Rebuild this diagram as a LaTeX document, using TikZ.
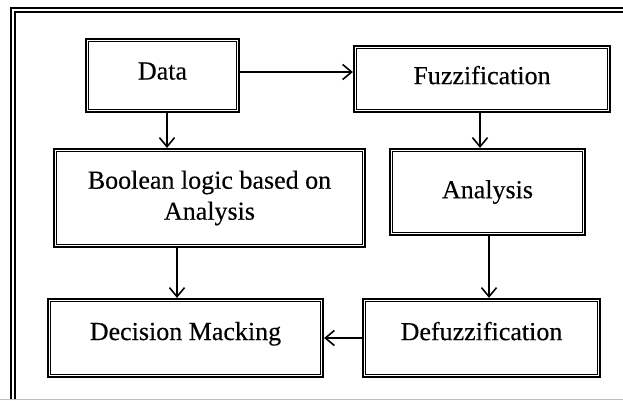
\documentclass[tikz,border=0pt]{standalone}
\usepackage{fontspec}
\setmainfont{Liberation Serif}[FakeBold=0.3]
\usetikzlibrary{arrows.meta}
\begin{document}
\begin{tikzpicture}[x=1pt,y=-1pt,
  box/.style={draw, line width=2.2pt, inner sep=0pt, align=center,
    font=\fontsize{26}{31}\selectfont},
  arr/.style={line width=1.6pt, -{Straight Barb[length=9pt,width=15pt,line width=1.6pt]}}]
\useasboundingbox (0,0) rectangle (623,400);
% outer frame
\draw[line width=2pt] (10.5,400) -- (10.5,8) -- (623,8);
\draw[line width=1.8pt] (15,400) -- (15,12) -- (623,12);
\draw[gray!50, line width=1pt] (0,399.5) -- (623,399.5);
% boxes
\node[box, minimum width=153pt, minimum height=73pt, text depth=9pt] (data) at (162.5,75.5) {Data};
\node[box, minimum width=256pt, minimum height=66pt, text depth=8pt] (fuzz) at (482,79) {Fuzzification};
\node[box, minimum width=311pt, minimum height=98pt] (bool) at (209.5,198) {Boolean logic based on\\Analysis};
\node[box, minimum width=195pt, minimum height=86pt] (ana) at (487.5,192) {Analysis};
\node[box, minimum width=275pt, minimum height=78pt, text depth=14pt] (dec) at (185.5,338) {Decision Macking};
\node[box, minimum width=237pt, minimum height=78pt, text depth=14pt] (defuzz) at (481.5,338) {Defuzzification};
% inner lines
\foreach \n in {data,fuzz,bool,ana,dec,defuzz}{
  \draw[line width=1.2pt] ([shift={(3.7,3.7)}]\n.north west) rectangle ([shift={(-3.7,-3.7)}]\n.south east);
}
% arrows
\draw[arr] (data.east |- 0,72) -- (fuzz.west |- 0,72);
\draw[arr] (data.south -| 167,0) -- (bool.north -| 167,0);
\draw[arr] (fuzz.south -| 480,0) -- (ana.north -| 480,0);
\draw[arr] (bool.south -| 177,0) -- (dec.north -| 177,0);
\draw[arr] (ana.south -| 489,0) -- (defuzz.north -| 489,0);
\draw[arr] (defuzz.west |- 0,338) -- (dec.east |- 0,338);
\end{tikzpicture}
\end{document}
